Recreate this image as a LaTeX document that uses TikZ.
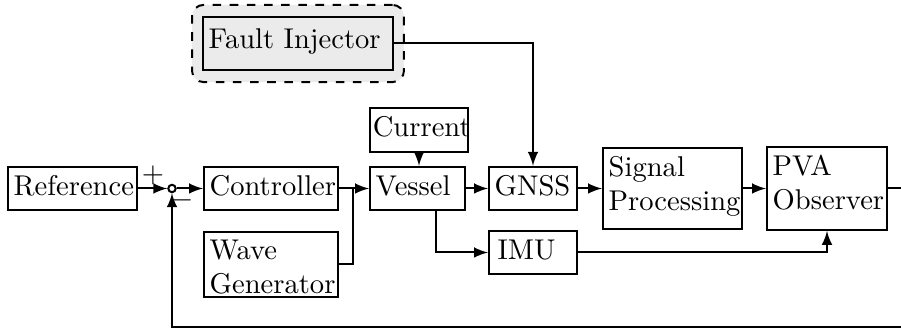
\documentclass[tikz,border=0pt]{standalone}
\usepackage{tikz}
\usetikzlibrary{calc, shapes, arrows}

\begin{document}
\begin{tikzpicture}[x=0.35pt,y=-0.35pt,>=latex]
\tikzstyle{block}=[draw,line width=0.7pt,align=left,inner xsep=2pt,inner ysep=1pt,text height=9pt,text depth=4.2pt]
\tikzstyle{tall}=[block,text height=8.9pt,text depth=17.6pt]
\tikzstyle{faultbox}=[draw,dashed,line width=0.7pt,rounded corners=4pt,fill=black!8,minimum width=74.2pt,minimum height=27pt]
\tikzstyle{sumpt}=[circle,draw,line width=0.7pt,inner sep=0pt,minimum size=2.6pt]
\tikzstyle{conn}=[line width=0.7pt]
\useasboundingbox (0,0) rectangle (901,329);
% blocks
\node[block,text width=41.15pt] (ref) at (72.5,188.5) {Reference};
\node[sumpt] (sum) at (172,188.5) {};
\node (plus) at (153,175) {$+$};
\node (minus) at (183,200) {$-$};
\node[block,text width=42.9pt] (ctrl) at (271,188.5) {Controller};
\node[block,text width=42.9pt,text height=8.6pt,text depth=12.1pt] (wave) at (271,264.5) {Wave\\Generator};
\node[block,text width=32.3pt,inner xsep=1pt] (current) at (419,130) {Current};
\node[block,text width=29.25pt] (vessel) at (417.5,188.5) {Vessel};
\node[block,text width=26.8pt] (gnss) at (533,188.5) {GNSS};
\node[block,text width=24.8pt,inner xsep=3pt] (imu) at (533,252.5) {IMU};
\node[faultbox] (faultbg) at (298,43.5) {};
\node[block,fill=black!8,text width=62.5pt,text height=9.9pt,text depth=6.7pt] (fault) at (298,43.5) {Fault Injector};
\node[tall,text width=44.65pt,text depth=17.45pt] (sigproc) at (672.5,188.5) {Signal\\Processing};
\node[tall,text width=38pt,text depth=18.1pt] (pva) at (827,188.5) {PVA\\Observer};
\coordinate (jn) at (353,188.5);
\coordinate (fbr) at (910,327);
% connectors
\draw[conn,->] (ref.east) -- (sum.west);
\draw[conn,->] (sum.east) -- (ctrl.west);
\draw[conn] (ctrl.east) -- (jn);
\draw[conn] (wave.east) -| (jn);
\draw[conn,->] (jn) -- (vessel.west);
\draw[conn,->] (current.south) -- (current.south |- vessel.north);
\draw[conn,->] (vessel.east) -- (gnss.west);
\draw[conn,->] ($(vessel.south)+(18.5,0)$) |- (imu.west);
\draw[conn,->] (fault.east) -| (gnss.north);
\draw[conn,->] (gnss.east) -- (sigproc.west);
\draw[conn,->] (sigproc.east) -- (pva.west);
\draw[conn,->] (imu.east) -| (pva.south);
\draw[conn,->] (pva.east) -| (fbr) -| (sum.south);
\end{tikzpicture}
\end{document}
